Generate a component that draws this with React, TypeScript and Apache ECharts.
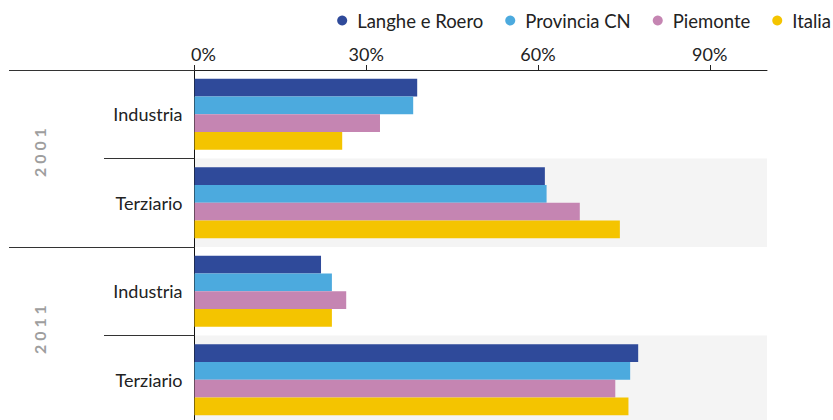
import React, { useEffect, useRef } from 'react';
import * as echarts from 'echarts';

const years = ['2001', '2011'];
const categories = ['2001|Industria', '2001|Terziario', '2011|Industria', '2011|Terziario'];
const seriesNames = ['Langhe e Roero', 'Provincia CN', 'Piemonte', 'Italia'];
const langhe = [38.9, 61.2, 22.1, 77.5];
const provincia = [38.2, 61.5, 24.0, 76.1];
const piemonte = [32.4, 67.3, 26.5, 73.5];
const italia = [25.8, 74.3, 24.0, 75.8];
const xTicks = [0, 30, 60, 90];
const colors = ['#2f4a9a', '#4caade', '#c585b2', '#f4c400'];

const FONT = 'Lato';

export default function App() {
  const ref = useRef<HTMLDivElement>(null);
  useEffect(() => {
    if (!ref.current) return;
    const chart = echarts.init(ref.current, undefined, { renderer: 'svg' });
    const seriesData = [langhe, provincia, piemonte, italia];
    chart.setOption({
      animation: false,
      color: colors,
      textStyle: { fontFamily: FONT },
      legend: {
        right: 2,
        top: 11,
        padding: 0,
        icon: 'circle',
        itemWidth: 20,
        itemHeight: 10,
        itemGap: 22,
        textStyle: { fontSize: 18.5, color: '#222', fontFamily: FONT },
        data: seriesNames,
      },
      grid: { left: 194.5, right: 66, top: 70, bottom: 6 },
      xAxis: {
        type: 'value',
        position: 'top',
        min: 0,
        max: 100,
        axisLine: { show: true, lineStyle: { color: '#222', width: 1 } },
        axisTick: { show: true, length: 5, lineStyle: { color: '#222' }, customValues: xTicks },
        axisLabel: {
          customValues: xTicks,
          formatter: (v: number) => (v === 0 ? '{z|0%}' : v + '%'),
          fontSize: 18,
          color: '#222',
          margin: 7,
          fontFamily: FONT,
          rich: { z: { padding: [0, 0, 0, 18], fontSize: 18, color: '#222', fontFamily: FONT } },
        },
        splitLine: { show: false },
      },
      yAxis: [
        {
          type: 'category',
          inverse: true,
          data: categories,
          position: 'left',
          axisLine: { show: true, lineStyle: { color: '#111' } },
          axisTick: { show: true, length: 90.5, lineStyle: { color: '#333' } },
          axisLabel: {
            formatter: (v: string) => v.split('|')[1],
            fontSize: 18,
            color: '#222',
            margin: 12,
            fontFamily: FONT,
          },
          splitArea: { show: true, areaStyle: { color: ['rgba(0,0,0,0)', '#f4f4f4'] } },
        },
        {
          type: 'category',
          inverse: true,
          data: years,
          position: 'left',
          axisLine: { show: false },
          axisTick: { show: true, length: 185.5, lineStyle: { color: '#333' } },
          axisLabel: {
            rotate: 90,
            align: 'center',
            verticalAlign: 'middle',
            margin: 155,
            formatter: (v: string) => v.split('').join(' '),
            fontSize: 16,
            fontWeight: 'bold',
            color: '#9e9e9e',
            fontFamily: FONT,
            padding: [0, 0, 0, 12],
          },
        },
      ],
      series: seriesNames.map((name, i) => ({
        name,
        type: 'bar',
        xAxisIndex: 0,
        yAxisIndex: 0,
        barGap: '0%',
        barCategoryGap: '20%',
        data: seriesData[i],
        itemStyle: { color: colors[i] },
      })),
    });
    return () => chart.dispose();
  }, []);
  return (
    <div
      ref={ref}
      style={{ position: 'absolute', left: 0, top: 0, width: 833, height: 430, background: '#fff' }}
    />
  );
}
